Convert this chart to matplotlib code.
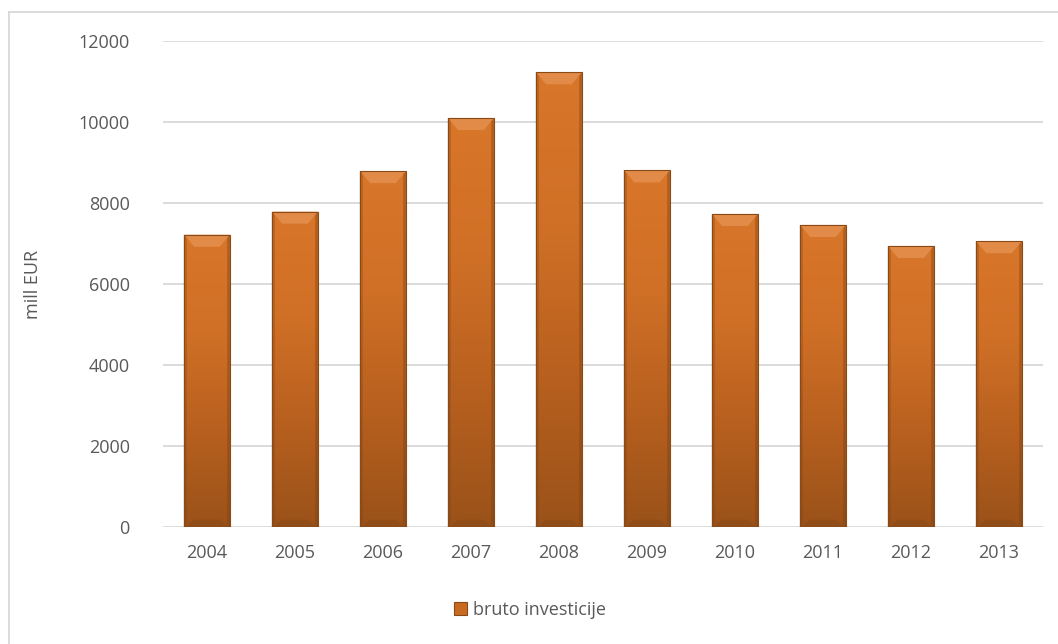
import matplotlib
matplotlib.use("Agg")
import matplotlib.pyplot as plt
import numpy as np
from matplotlib.patches import Polygon, Rectangle
from matplotlib.lines import Line2D
from matplotlib.colors import LinearSegmentedColormap

years = ["2004", "2005", "2006", "2007", "2008", "2009", "2010", "2011", "2012", "2013"]
values = [7220, 7790, 8790, 10100, 11230, 8810, 7730, 7460, 6940, 7060]
series_name = "bruto investicije"
y_label = "mill EUR"
y_ticks = [0, 2000, 4000, 6000, 8000, 10000, 12000]

plt.rcParams['font.family'] = ['Open Sans', 'DejaVu Sans']
text_color = "#595959"

fig = plt.figure(figsize=(10.58, 6.44), dpi=100)
ax = fig.add_axes([163/1058, 1-527/644, 880/1058, 486/644])

x = np.arange(len(years))
width = 0.52
ax.set_xlim(-0.5, len(years) - 0.5)
ax.set_ylim(0, 12000)

for t in y_ticks:
    ax.axhline(t, color="#d9d9d9", lw=1.3, zorder=0)

cmap = LinearSegmentedColormap.from_list("bar", ["#9a5219", "#b8601f", "#d07026", "#d8762a"])
grad = np.linspace(0, 1, 256).reshape(-1, 1)

bars = ax.bar(x, values, width=width, color="none", edgecolor="none", zorder=2)
for b in bars:
    x0, w, h = b.get_x(), b.get_width(), b.get_height()
    # soft shadow at sides
    ax.add_patch(Rectangle((x0 - 0.015, 0), w + 0.03, h, color="#000000", alpha=0.08, zorder=1.5, lw=0))
    im = ax.imshow(grad, extent=[x0, x0 + w, 0, h], origin="lower", aspect="auto", cmap=cmap, zorder=2)
    clip = Rectangle((x0, 0), w, h, transform=ax.transData, facecolor="none", edgecolor="none")
    ax.add_patch(clip)
    im.set_clip_path(clip)
    bev_x = w * 0.22
    bev_y = 300
    # top bevel (light)
    ax.add_patch(Polygon([(x0, h), (x0 + w, h), (x0 + w - bev_x, h - bev_y), (x0 + bev_x, h - bev_y)],
                         closed=True, facecolor="#e59150", edgecolor="none", alpha=0.8, zorder=3))
    # side edges (darker)
    ax.add_patch(Polygon([(x0, h), (x0 + w * 0.06, h - bev_y * 0.3), (x0 + w * 0.06, bev_y * 0.3), (x0, 0)],
                         closed=True, facecolor="#7a3f12", edgecolor="none", alpha=0.3, zorder=3))
    ax.add_patch(Polygon([(x0 + w, h), (x0 + w - w * 0.06, h - bev_y * 0.3), (x0 + w - w * 0.06, bev_y * 0.3), (x0 + w, 0)],
                         closed=True, facecolor="#7a3f12", edgecolor="none", alpha=0.4, zorder=3))
    # bottom bevel
    ax.add_patch(Polygon([(x0, 0), (x0 + w, 0), (x0 + w - bev_x, bev_y * 0.6), (x0 + bev_x, bev_y * 0.6)],
                         closed=True, facecolor="#7a3f12", edgecolor="none", alpha=0.25, zorder=3))
    ax.add_patch(Rectangle((x0, 0), w, h, facecolor="none", edgecolor="#8a4a18", lw=0.8, zorder=4))

for s in ax.spines.values():
    s.set_visible(False)
ax.set_xticks(x)
ax.set_xticklabels(years)
ax.set_yticks(y_ticks)
ax.tick_params(axis="both", length=0, labelsize=13, colors=text_color)
ax.tick_params(axis="x", pad=12)
ax.tick_params(axis="y", pad=24)
ax.set_ylabel(y_label, fontsize=13, color=text_color, labelpad=26)

handle = Rectangle((0, 0), 1, 1, facecolor="#c96a22", edgecolor="#8a4a18", lw=0.8)
leg = fig.legend([handle], [series_name], loc="center", bbox_to_anchor=(530/1058, 1-610/644),
                 frameon=False, fontsize=13, handlelength=0.7, handleheight=0.7, handletextpad=0.3)
for t in leg.get_texts():
    t.set_color(text_color)

# outer border (top and left only visible)
fig.add_artist(Line2D([9/1058, 9/1058], [0, 1-12/644], transform=fig.transFigure, color="#d9d9d9", lw=1.3))
fig.add_artist(Line2D([9/1058, 1], [1-12/644, 1-12/644], transform=fig.transFigure, color="#d9d9d9", lw=1.3))

fig.savefig("out.png", dpi=100)
